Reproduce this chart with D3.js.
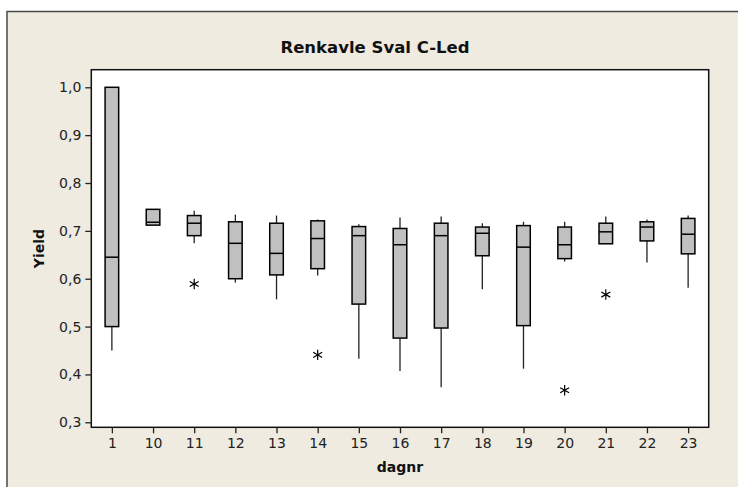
<!DOCTYPE html>
<html>
<head>
<meta charset="utf-8">
<script src="https://cdn.jsdelivr.net/npm/d3@7/dist/d3.min.js"></script>
<style>
html,body{margin:0;padding:0;background:#fff;}
svg{display:block;}
</style>
</head>
<body>
<script>
const categories = ["1","10","11","12","13","14","15","16","17","18","19","20","21","22","23"];
const whiskerHigh = [1.000,0.745,0.742,0.734,0.732,0.724,0.714,0.728,0.730,0.716,0.719,0.719,0.730,0.724,0.732];
const q3Values    = [1.000,0.745,0.732,0.719,0.716,0.721,0.709,0.705,0.716,0.708,0.711,0.708,0.716,0.719,0.726];
const medianValues= [0.645,0.718,0.716,0.674,0.653,0.684,0.690,0.671,0.690,0.695,0.666,0.671,0.698,0.708,0.693];
const q1Values    = [0.500,0.712,0.690,0.600,0.608,0.621,0.547,0.476,0.497,0.648,0.502,0.642,0.673,0.679,0.652];
const whiskerLow  = [0.450,0.712,0.674,0.592,0.557,0.607,0.433,0.407,0.373,0.578,0.412,0.636,0.673,0.634,0.581];
const outlierCats = ["11","14","20","21"];
const outlierValues = [0.589,0.441,0.367,0.567];
const yTicks = [0.3,0.4,0.5,0.6,0.7,0.8,0.9,1.0];
const title = "Renkavle Sval C-Led";
const xTitle = "dagnr";
const yTitle = "Yield";

const W = 738, H = 487;
const plot = {l:91.3, t:69.7, r:708.7, b:427.3};
const font = "'DejaVu Sans', Verdana, sans-serif";

const svg = d3.select("body").append("svg").attr("width", W).attr("height", H);

// outer graph window
svg.append("rect").attr("x", 7).attr("y", 11.5).attr("width", 900).attr("height", 700)
  .attr("fill", "#EFEBE1").attr("stroke", "#4a4a4a").attr("stroke-width", 1.5);

// plot background
svg.append("rect").attr("x", plot.l).attr("y", plot.t)
  .attr("width", plot.r - plot.l).attr("height", plot.b - plot.t)
  .attr("fill", "#ffffff");

const x = d3.scalePoint().domain(categories).range([plot.l, plot.r]).padding(0.5);
const y = d3.scaleLinear().domain([0.3, 1.0]).range([422.3, 87.3]);
const boxW = x.step() * 0.33;

const data = categories.map((c, i) => ({
  cat: c, hi: whiskerHigh[i], q3: q3Values[i], med: medianValues[i], q1: q1Values[i], lo: whiskerLow[i]
}));

const g = svg.append("g");
// whiskers
g.selectAll(".wh").data(data).join("line")
  .attr("x1", d => x(d.cat)).attr("x2", d => x(d.cat))
  .attr("y1", d => y(d.hi)).attr("y2", d => y(d.q3))
  .attr("stroke", "#222").attr("stroke-width", 1.3);
g.selectAll(".wl").data(data).join("line")
  .attr("x1", d => x(d.cat)).attr("x2", d => x(d.cat))
  .attr("y1", d => y(d.q1)).attr("y2", d => y(d.lo))
  .attr("stroke", "#222").attr("stroke-width", 1.3);
// boxes
g.selectAll(".box").data(data).join("rect")
  .attr("x", d => x(d.cat) - boxW / 2).attr("width", boxW)
  .attr("y", d => y(d.q3)).attr("height", d => y(d.q1) - y(d.q3))
  .attr("fill", "#C0C0C0").attr("stroke", "#000").attr("stroke-width", 1.5);
// medians
g.selectAll(".med").data(data).join("line")
  .attr("x1", d => x(d.cat) - boxW / 2).attr("x2", d => x(d.cat) + boxW / 2)
  .attr("y1", d => y(d.med)).attr("y2", d => y(d.med))
  .attr("stroke", "#000").attr("stroke-width", 1.5);
// outliers
g.selectAll(".out").data(outlierCats.map((c, i) => ({cat: c, v: outlierValues[i]}))).join("path")
  .attr("transform", d => `translate(${x(d.cat)},${y(d.v)})`)
  .attr("d", d3.symbol(d3.symbolAsterisk, 75))
  .attr("fill", "none").attr("stroke", "#000").attr("stroke-width", 1.2);

// frame
svg.append("rect").attr("x", plot.l).attr("y", plot.t)
  .attr("width", plot.r - plot.l).attr("height", plot.b - plot.t)
  .attr("fill", "none").attr("stroke", "#111").attr("stroke-width", 1.5);

// y axis
const yAxis = svg.append("g").attr("transform", `translate(${plot.l},0)`)
  .call(d3.axisLeft(y).tickValues(yTicks).tickSize(6).tickPadding(4)
    .tickFormat(d => d3.format(".1f")(d).replace(".", ",")));
yAxis.select(".domain").remove();
yAxis.selectAll("line").attr("stroke", "#222").attr("stroke-width", 1.3);
yAxis.selectAll("text").attr("font-family", font).attr("font-size", 14).attr("fill", "#222");

// x axis
const xAxis = svg.append("g").attr("transform", `translate(0,${plot.b})`)
  .call(d3.axisBottom(x).tickSize(6).tickPadding(5));
xAxis.select(".domain").remove();
xAxis.selectAll("line").attr("stroke", "#222").attr("stroke-width", 1.3);
xAxis.selectAll("text").attr("font-family", font).attr("font-size", 14).attr("fill", "#222");

// titles
svg.append("text").attr("x", 375).attr("y", 53).attr("text-anchor", "middle")
  .attr("font-family", font).attr("font-weight", "bold").attr("font-size", 16.5).attr("fill", "#111")
  .text(title);
svg.append("text").attr("x", 400).attr("y", 472).attr("text-anchor", "middle")
  .attr("font-family", font).attr("font-weight", "bold").attr("font-size", 14).attr("fill", "#111")
  .text(xTitle);
svg.append("text").attr("transform", `translate(44,248.5) rotate(-90)`).attr("text-anchor", "middle")
  .attr("font-family", font).attr("font-weight", "bold").attr("font-size", 14).attr("fill", "#111")
  .text(yTitle);
</script>
</body>
</html>
